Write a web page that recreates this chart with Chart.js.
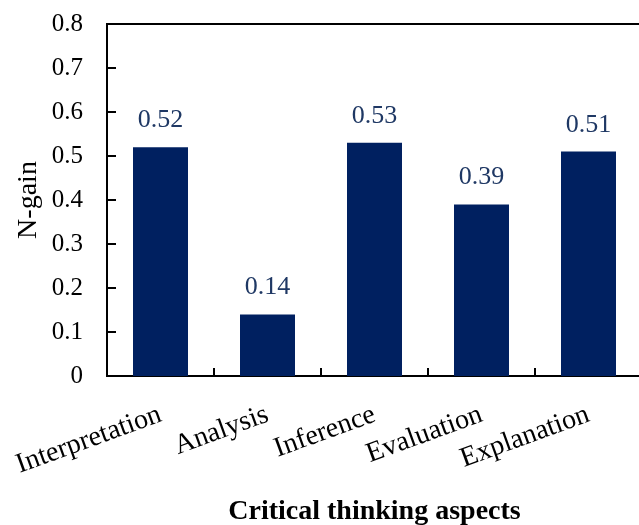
<!DOCTYPE html>
<html>
<head>
<meta charset="utf-8">
<script src="https://cdn.jsdelivr.net/npm/chart.js@4.4.1/dist/chart.umd.min.js"></script>
<style>
  html, body { margin: 0; padding: 0; background: #fff; overflow: hidden; }
  #wrap { width: 642px; height: 525px; position: relative; }
</style>
</head>
<body>
<div id="wrap"><canvas id="chart"></canvas></div>
<script>
const categories = ["Interpretation", "Analysis", "Inference", "Evaluation", "Explanation"];
const nGain = [0.52, 0.14, 0.53, 0.39, 0.51];
const yTicks = [0, 0.1, 0.2, 0.3, 0.4, 0.5, 0.6, 0.7, 0.8];

const SERIF = "'Liberation Serif', 'DejaVu Serif', serif";

const frameAndLabels = {
  id: "frameAndLabels",
  afterDraw(chart) {
    const { ctx, chartArea: a, scales: { x, y } } = chart;
    ctx.save();
    ctx.strokeStyle = "#000";
    ctx.lineWidth = 2;
    ctx.beginPath();
    ctx.moveTo(a.left - 1, a.top);
    ctx.lineTo(a.right, a.top);
    // inward ticks on the value axis
    for (const v of yTicks) {
      const py = Math.round(y.getPixelForValue(v));
      ctx.moveTo(a.left, py);
      ctx.lineTo(a.left + 9, py);
    }
    // inward ticks between categories
    for (let i = 1; i < categories.length; i++) {
      const px = Math.round((x.getPixelForValue(i - 1) + x.getPixelForValue(i)) / 2);
      ctx.moveTo(px, a.bottom);
      ctx.lineTo(px, a.bottom - 8);
    }
    ctx.stroke();

    // value labels above bars
    ctx.fillStyle = "#1f3864";
    ctx.font = `26px ${SERIF}`;
    ctx.textAlign = "center";
    ctx.textBaseline = "alphabetic";
    chart.getDatasetMeta(0).data.forEach((bar, i) => {
      ctx.fillText(nGain[i].toFixed(2), bar.x, bar.y - 20);
    });
    ctx.restore();
  },
};

new Chart(document.getElementById("chart"), {
  type: "bar",
  data: {
    labels: categories,
    datasets: [{
      data: nGain,
      backgroundColor: "#002060",
      borderWidth: 0,
      barPercentage: 0.514,
      categoryPercentage: 1,
    }],
  },
  options: {
    responsive: true,
    maintainAspectRatio: false,
    animation: false,
    layout: { padding: { top: 24, left: 0, right: 0, bottom: 0 } },
    plugins: { legend: { display: false }, tooltip: { enabled: false } },
    scales: {
      x: {
        offset: true,
        grid: { display: false, drawTicks: false },
        border: { color: "#000", width: 2 },
        ticks: {
          autoSkip: false,
          minRotation: 20,
          maxRotation: 20,
          padding: 22,
          color: "#000",
          font: { family: SERIF, size: 28 },
        },
        title: {
          display: true,
          text: "Critical thinking aspects",
          color: "#000",
          font: { family: SERIF, size: 28, weight: "bold" },
          padding: { top: 14, bottom: -4 },
        },
        afterFit: (s) => { s.height = 149; s.paddingLeft = 0; s.paddingRight = 0; },
      },
      y: {
        min: 0,
        max: 0.8,
        afterBuildTicks: (s) => { s.ticks = yTicks.map(v => ({ value: v })); },
        grid: { display: false, drawTicks: false },
        border: { color: "#000", width: 2 },
        ticks: {
          padding: 24,
          color: "#000",
          font: { family: SERIF, size: 25 },
          callback: (v) => (v === 0 ? "0" : Number(v).toFixed(1)),
        },
        title: {
          display: true,
          text: "N-gain",
          color: "#000",
          font: { family: SERIF, size: 28 },
          padding: { top: 12, bottom: 4 },
        },
        afterFit: (s) => { s.width = 107; s.paddingTop = 0; s.paddingBottom = 0; },
      },
    },
  },
  plugins: [frameAndLabels],
});
</script>
</body>
</html>
